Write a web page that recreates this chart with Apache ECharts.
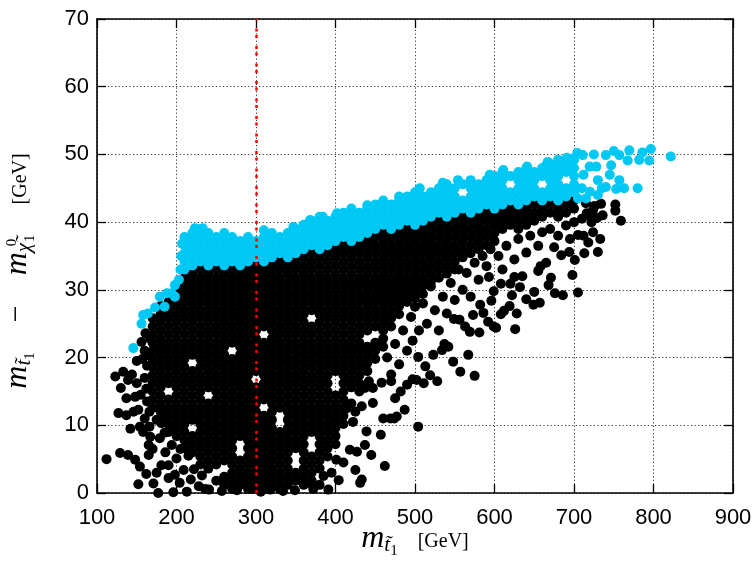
<!DOCTYPE html>
<html>
<head>
<meta charset="utf-8">
<script src="https://cdn.jsdelivr.net/npm/echarts/dist/echarts.min.js"></script>
<style>
  html, body { margin: 0; padding: 0; background: #fff; }
  #chart { width: 756px; height: 561px; }
</style>
</head>
<body>
<div id="chart"></div>
<script>
  // axis ticks
  var xTicks = [100, 200, 300, 400, 500, 600, 700, 800, 900];
  var yTicks = [0, 10, 20, 30, 40, 50, 60, 70];
  var redLineX = 300;

  // black points, dense part read column by column: [x, [y, y, ...]]
  var blackCore = [
    [170, [12.6, 13.8, 15, 16.2, 17.4, 18.6, 19.8, 21, 22.2, 23.4, 24.6, 25.8]],
    [180, [10.8, 12, 13.2, 14.4, 15.6, 16.8, 18, 19.2, 20.4, 21.6, 22.8, 24, 25.2, 26.4, 27.6]],
    [190, [9, 10.2, 11.4, 12.6, 13.8, 16.2, 17.4, 18.6, 19.8, 21, 22.2, 23.4, 24.6, 25.8, 27, 28.2]],
    [200, [8.4, 9.6, 10.8, 12, 13.2, 14.4, 15.6, 16.8, 18, 19.2, 20.4, 21.6, 22.8, 24, 25.2, 26.4, 27.6, 28.8, 30]],
    [210, [6.6, 7.8, 9, 10.2, 11.4, 12.6, 13.8, 15, 16.2, 17.4, 18.6, 19.8, 21, 22.2, 23.4, 24.6, 25.8, 27, 28.2, 29.4, 30.6, 31.8]],
    [220, [6, 7.2, 8.4, 10.8, 12, 13.2, 14.4, 15.6, 16.8, 18, 20.4, 21.6, 22.8, 24, 25.2, 26.4, 27.6, 28.8, 30, 31.2, 32.4]],
    [230, [4.2, 5.4, 6.6, 7.8, 9, 10.2, 11.4, 12.6, 13.8, 15, 16.2, 17.4, 18.6, 19.8, 21, 22.2, 23.4, 24.6, 25.8, 27, 28.2, 29.4, 30.6, 31.8, 33]],
    [240, [3.6, 4.8, 6, 7.2, 8.4, 9.6, 10.8, 12, 13.2, 15.6, 16.8, 18, 19.2, 20.4, 21.6, 22.8, 24, 25.2, 26.4, 27.6, 28.8, 30, 31.2, 32.4, 33.6]],
    [250, [1.8, 4.2, 5.4, 6.6, 7.8, 9, 10.2, 11.4, 12.6, 13.8, 15, 16.2, 17.4, 18.6, 19.8, 21, 22.2, 23.4, 24.6, 25.8, 27, 28.2, 29.4, 30.6, 31.8, 33]],
    [260, [1.2, 2.4, 4.8, 6, 7.2, 8.4, 9.6, 10.8, 12, 13.2, 14.4, 15.6, 16.8, 18, 19.2, 20.4, 21.6, 22.8, 24, 25.2, 26.4, 27.6, 28.8, 30, 31.2, 32.4, 33.6]],
    [270, [0.6, 1.8, 3, 4.2, 5.4, 6.6, 7.8, 9, 10.2, 11.4, 12.6, 13.8, 15, 16.2, 17.4, 18.6, 19.8, 22.2, 23.4, 24.6, 25.8, 27, 28.2, 29.4, 30.6, 31.8, 33]],
    [280, [1.2, 2.4, 3.6, 4.8, 8.4, 9.6, 10.8, 12, 13.2, 14.4, 15.6, 16.8, 18, 19.2, 20.4, 21.6, 22.8, 24, 25.2, 26.4, 27.6, 28.8, 30, 31.2, 32.4, 33.6]],
    [290, [0.6, 1.8, 3, 4.2, 5.4, 6.6, 7.8, 9, 10.2, 11.4, 12.6, 13.8, 15, 16.2, 17.4, 18.6, 19.8, 21, 22.2, 23.4, 24.6, 25.8, 27, 28.2, 29.4, 30.6, 31.8, 33]],
    [300, [1.2, 2.4, 3.6, 4.8, 6, 7.2, 8.4, 9.6, 10.8, 12, 13.2, 14.4, 15.6, 18, 19.2, 20.4, 21.6, 22.8, 24, 25.2, 26.4, 27.6, 28.8, 30, 31.2, 32.4, 33.6]],
    [310, [0.6, 1.8, 3, 4.2, 5.4, 6.6, 7.8, 9, 10.2, 11.4, 13.8, 15, 16.2, 17.4, 18.6, 19.8, 21, 22.2, 24.6, 25.8, 27, 28.2, 29.4, 30.6, 31.8, 33]],
    [320, [1.2, 2.4, 3.6, 4.8, 6, 7.2, 8.4, 9.6, 10.8, 12, 13.2, 14.4, 15.6, 16.8, 18, 19.2, 20.4, 21.6, 22.8, 24, 25.2, 26.4, 27.6, 28.8, 30, 31.2, 32.4, 33.6]],
    [330, [0.6, 1.8, 3, 4.2, 5.4, 6.6, 7.8, 9, 12.6, 13.8, 15, 16.2, 17.4, 18.6, 19.8, 21, 22.2, 23.4, 24.6, 25.8, 27, 28.2, 29.4, 30.6, 31.8, 33, 34.2]],
    [340, [1.2, 2.4, 3.6, 4.8, 6, 7.2, 8.4, 9.6, 10.8, 12, 13.2, 14.4, 15.6, 16.8, 18, 19.2, 20.4, 21.6, 22.8, 24, 25.2, 26.4, 27.6, 28.8, 30, 31.2, 32.4, 33.6, 34.8]],
    [350, [1.8, 3, 6.6, 7.8, 9, 10.2, 11.4, 12.6, 13.8, 15, 16.2, 17.4, 18.6, 19.8, 21, 22.2, 23.4, 24.6, 25.8, 27, 28.2, 29.4, 30.6, 31.8, 33, 34.2]],
    [360, [1.2, 2.4, 3.6, 4.8, 6, 7.2, 8.4, 9.6, 10.8, 12, 13.2, 14.4, 15.6, 16.8, 18, 19.2, 20.4, 21.6, 22.8, 24, 25.2, 26.4, 27.6, 28.8, 30, 31.2, 32.4, 33.6, 34.8]],
    [370, [1.8, 3, 4.2, 5.4, 9, 10.2, 11.4, 12.6, 13.8, 15, 16.2, 17.4, 18.6, 19.8, 21, 22.2, 23.4, 24.6, 27, 28.2, 29.4, 30.6, 31.8, 33, 34.2, 35.4]],
    [380, [3.6, 4.8, 6, 7.2, 8.4, 9.6, 10.8, 12, 13.2, 14.4, 15.6, 16.8, 18, 19.2, 20.4, 21.6, 22.8, 24, 25.2, 26.4, 27.6, 28.8, 30, 31.2, 32.4, 33.6, 34.8, 36]],
    [390, [5.4, 6.6, 7.8, 9, 10.2, 11.4, 12.6, 13.8, 15, 16.2, 17.4, 18.6, 19.8, 21, 22.2, 23.4, 24.6, 25.8, 27, 28.2, 29.4, 30.6, 31.8, 33, 34.2, 35.4, 36.6]],
    [400, [7.2, 8.4, 9.6, 10.8, 12, 13.2, 14.4, 18, 19.2, 20.4, 21.6, 22.8, 24, 25.2, 26.4, 27.6, 28.8, 30, 31.2, 32.4, 33.6, 34.8, 36]],
    [410, [10.2, 11.4, 12.6, 13.8, 15, 16.2, 17.4, 18.6, 19.8, 21, 22.2, 23.4, 24.6, 25.8, 27, 28.2, 29.4, 30.6, 31.8, 33, 34.2, 35.4, 36.6]],
    [420, [13.2, 15.6, 16.8, 18, 19.2, 20.4, 21.6, 22.8, 24, 25.2, 26.4, 27.6, 28.8, 30, 31.2, 32.4, 33.6, 34.8, 36, 37.2]],
    [430, [15, 16.2, 17.4, 18.6, 19.8, 21, 22.2, 23.4, 24.6, 25.8, 27, 28.2, 29.4, 30.6, 31.8, 33, 34.2, 35.4, 36.6, 37.8]],
    [440, [18, 19.2, 20.4, 21.6, 24, 25.2, 26.4, 27.6, 28.8, 30, 31.2, 32.4, 33.6, 34.8, 36, 37.2, 38.4]],
    [450, [19.8, 21, 22.2, 24.6, 25.8, 27, 28.2, 29.4, 30.6, 31.8, 33, 34.2, 35.4, 36.6, 37.8]],
    [460, [21.6, 22.8, 24, 25.2, 26.4, 27.6, 28.8, 30, 31.2, 32.4, 33.6, 34.8, 36, 37.2, 38.4]],
    [470, [24.6, 25.8, 27, 28.2, 29.4, 30.6, 31.8, 33, 34.2, 35.4, 36.6, 37.8, 39]],
    [480, [26.4, 27.6, 28.8, 30, 31.2, 32.4, 33.6, 34.8, 36, 37.2, 38.4, 39.6]],
    [490, [28.2, 29.4, 30.6, 31.8, 33, 34.2, 35.4, 36.6, 37.8, 39]],
    [500, [28.8, 30, 31.2, 32.4, 33.6, 34.8, 36, 37.2, 38.4, 39.6]],
    [510, [29.4, 30.6, 31.8, 33, 34.2, 35.4, 36.6, 37.8, 39, 40.2]],
    [520, [31.2, 32.4, 33.6, 34.8, 36, 37.2, 38.4, 39.6, 40.8]],
    [530, [31.8, 33, 34.2, 35.4, 36.6, 37.8, 39, 40.2]],
    [540, [32.4, 33.6, 34.8, 36, 37.2, 38.4, 39.6, 40.8]],
    [550, [33, 34.2, 35.4, 36.6, 37.8, 39, 40.2, 41.4]],
    [560, [34.8, 36, 37.2, 38.4, 39.6, 40.8]],
    [570, [35.4, 36.6, 37.8, 39, 40.2, 41.4]],
    [580, [36, 37.2, 38.4, 39.6, 40.8, 42]],
    [590, [36.6, 37.8, 39, 40.2, 41.4]],
    [600, [37.2, 38.4, 39.6, 40.8, 42]],
    [610, [39, 40.2, 41.4, 42.6]],
    [620, [39.6, 40.8, 42]],
    [630, [39, 40.2, 41.4, 42.6]],
    [640, [39.6, 40.8, 42, 43.2]],
    [650, [40.2, 41.4, 42.6]],
    [660, [40.8, 42, 43.2]],
    [670, [41.4, 42.6]],
    [680, [40.8, 42, 43.2]],
    [690, [41.4, 42.6]],
    [700, [42, 43.2]]
  ];

  // black points, loose ones round the edges: [x, y]
  var blackLoose = [
    [112, 5], [123, 17.2], [127, 11.8], [129, 5.9], [130, 15.5], [133, 17.9], [137, 11.5], [137, 14],
    [139, 16.7], [139, 5.6], [142, 9.5], [144, 17.5], [146, 12], [148, 4.9], [148, 14.2], [150, 16.2],
    [150, 19.5], [152, 12.3], [152, 1.3], [154, 3.9], [154, 9.8], [155, 14.5], [156, 22.3], [157, 19.8],
    [158, 9], [160, 21], [160, 11], [160, 17], [162, 2.8], [163, 13.5], [165, 5.6], [165, 7.1],
    [161, 23.6], [162, 15.4], [163, 18.8], [166, 12], [166, 20.3], [167, 22.8],
    [166, 9.8], [167, 8.3], [170, 6.5], [171, 1.4], [175, 10.8], [175, 3], [177, 0], [179, 8.1],
    [181, 4.1], [181, 10.3], [185, 8.9], [186, 6], [190, 4.1], [190, 2.2], [192, 9.5], [194, 7.1],
    [196, 0.1], [198, 2.7], [200, 5.1], [204, 1.5], [205, 6.5], [209, 3.4], [213, 0.2], [215, 5.5],
    [218, 2], [222, 3.5], [228, 1], [232, 2.6], [236, 0.6],
    [241, 0.5], [257, 0.3], [276, 0.4], [295, 0.6], [306, 0.2], [318, 0.5], [334, 0.3], [349, 0.4],
    [365, 1.5], [372, 0.6], [380, 1.2], [385, 2.5], [391, 0.5], [395, 3], [401, 4.9], [404, 1.9],
    [410, 4.5], [418, 6.4], [425, 3.4], [427, 6.1], [431, 1.5], [433, 2], [437, 7.1], [439, 9.1],
    [445, 5.6], [457, 8.6], [462, 4], [414, 12.5], [422, 10.5], [425, 12], [433, 12.8], [437, 15.5],
    [442, 16.5], [447, 13.3], [460, 11], [469, 11], [474, 11], [477, 11.3], [487, 12.3], [504, 9.8],
    [447, 15.5], [458, 16.3], [470, 16.5], [490, 16], [497, 16.8], [475, 14], [482, 15],
    [465, 20], [470, 17.5], [475, 22], [480, 19], [485, 24], [490, 21], [495, 26], [497, 22.5],
    [500, 27.5], [502, 16.7], [504, 20.1], [505, 24], [510, 28], [511, 16.2], [513, 18.7], [515, 25],
    [519, 17.4], [520, 30.5], [523, 20.4], [525, 27], [528, 16.5], [530, 24], [534, 21.1], [535, 29],
    [537, 22], [540, 26.5], [542, 21.6], [545, 31], [548, 19.4], [549, 25.7], [550, 28.5], [555, 33],
    [556, 25.6], [557, 17.9], [560, 30], [563, 24.6], [565, 32.5], [567, 20.4], [569, 23.8], [570, 29],
    [573, 26.3], [575, 17.3], [575, 34], [580, 31.5], [581, 23.7], [582, 27.8], [585, 35], [586, 26.6],
    [590, 33.5], [592, 25.3], [593, 31.9], [595, 36], [596, 28.4], [599, 24.6], [599, 29.8], [602, 24.4],
    [605, 35], [608, 26.4], [608, 30.9], [610, 33], [612, 26.9], [615, 36.5], [619, 27.6], [620, 30.9],
    [622, 29.2], [625, 34.5], [625, 31.9], [626, 24.2], [628, 26.5], [630, 37.5], [632, 30.4], [635, 32],
    [640, 28.6], [640, 35.5], [645, 38], [649, 27.8], [650, 29.7], [655, 32.8], [655, 36.5], [657, 28.1],
    [658, 33.5], [660, 38.5], [665, 34], [668, 30.7], [670, 39], [671, 31.8], [675, 36.3], [676, 29.5],
    [680, 38], [684, 35.1], [686, 29.2], [690, 39.5], [694, 35.6], [695, 37.5], [698, 32.2], [700, 40],
    [701, 34.4], [705, 29.6], [705, 38.1], [710, 40.5], [712, 38], [713, 35.4], [715, 42.8], [716, 41.3],
    [718, 37], [720, 40.9], [722, 40], [724, 38.5], [724, 41.8], [726, 42.4], [729, 40.6], [730, 35.6],
    [733, 37.5], [734, 42.7], [736, 41], [752, 42.6], [752, 41.7], [759, 40.2]
  ];

  // cyan band, column by column
  var cyanCore = [
    [210, [33, 34.2, 35.4, 36.6, 37.8]],
    [220, [33.6, 34.8, 36, 37.2, 38.4]],
    [230, [34.2, 35.4, 36.6, 37.8, 39]],
    [240, [33.6, 34.8, 36, 37.2, 38.4]],
    [250, [34.2, 35.4, 36.6, 37.8]],
    [260, [33.6, 34.8, 36, 37.2, 38.4]],
    [270, [34.2, 35.4, 36.6, 37.8]],
    [280, [33.6, 34.8, 36, 37.2]],
    [290, [34.2, 35.4, 36.6, 37.8]],
    [300, [34.8, 36, 37.2]],
    [310, [34.2, 35.4, 36.6, 37.8]],
    [320, [34.8, 36, 37.2, 38.4]],
    [330, [35.4, 36.6, 37.8]],
    [340, [34.8, 36, 37.2, 38.4]],
    [350, [35.4, 36.6, 37.8, 39]],
    [360, [36, 37.2, 38.4, 39.6]],
    [370, [36.6, 37.8, 39, 40.2]],
    [380, [36, 37.2, 38.4, 39.6, 40.8]],
    [390, [36.6, 37.8, 39, 40.2]],
    [400, [37.2, 38.4, 39.6, 40.8]],
    [410, [37.8, 39, 40.2, 41.4]],
    [420, [37.2, 38.4, 39.6, 40.8, 42]],
    [430, [37.8, 39, 40.2, 41.4]],
    [440, [38.4, 39.6, 40.8, 42]],
    [450, [39, 40.2, 41.4, 42.6]],
    [460, [39.6, 40.8, 42, 43.2]],
    [470, [39, 40.2, 41.4, 42.6]],
    [480, [39.6, 40.8, 42, 43.2]],
    [490, [40.2, 41.4, 42.6, 43.8]],
    [500, [39.6, 40.8, 42, 43.2, 44.4]],
    [510, [40.2, 41.4, 42.6, 43.8]],
    [520, [40.8, 42, 43.2, 44.4]],
    [530, [41.4, 42.6, 43.8, 45]],
    [540, [40.8, 42, 43.2, 44.4, 45.6]],
    [550, [41.4, 42.6, 43.8, 45]],
    [560, [42, 43.2, 45.6]],
    [570, [41.4, 42.6, 43.8, 45, 46.2]],
    [580, [42, 43.2, 44.4, 45.6]],
    [590, [42.6, 43.8, 45, 46.2]],
    [600, [42, 43.2, 44.4, 45.6, 46.8]],
    [610, [42.6, 43.8, 45, 46.2, 47.4]],
    [620, [43.2, 44.4, 46.8]],
    [630, [42.6, 43.8, 45, 46.2, 47.4]],
    [640, [43.2, 44.4, 45.6, 46.8, 48]],
    [650, [43.8, 45, 46.2, 47.4]],
    [660, [43.2, 44.4, 46.8, 48]],
    [670, [43.8, 45, 46.2, 47.4, 48.6]],
    [680, [43.2, 44.4, 45.6, 46.8, 48, 49.2]],
    [690, [43.8, 45, 47.4, 48.6]],
    [700, [44.4, 45.6, 46.8, 48, 49.2]]
  ];

  var cyanLoose = [
    [145.7, 21.4], [156, 25], [158, 26.3], [164, 26.5], [173, 27.4], [179, 29], [185, 27.5], [188, 29.5],
    [194, 29.5], [198, 30.7], [198, 29], [203, 31.5], [205, 33], [206, 35], [207, 36.8], [213, 37.4],
    [223, 39.1], [233, 39.1],
    [310, 38.8], [347, 39.3], [368, 40.3], [384, 40.8], [402, 41.3], [440, 42.5], [480, 43.8], [506, 45],
    [535, 45.8], [554, 46.2], [594, 47], [611, 47.7], [641, 48.2], [665, 48.4], [667, 48.9], [682, 48.9],
    [691, 49.5], [699, 49.4], [704, 50.2],
    [705, 43.5], [710, 45], [712, 47], [711, 49.9], [715, 43.5], [719.6, 48.2], [720, 44.5], [725, 50],
    [728, 48.2], [730, 46.2], [730, 44], [735, 45], [740, 49.9], [740, 45.2], [745, 47], [746.7, 48.4],
    [750, 50.5], [753, 44.9], [757, 46.2], [757, 49.9], [763, 45], [767.5, 49.1], [769.6, 50.6], [780, 45],
    [782, 49.2], [786, 50.3], [794.6, 49.1], [796.7, 50.8], [821.7, 49.7]
  ];

  function expand(cols) {
    var pts = [];
    cols.forEach(function (c) {
      c[1].forEach(function (y) { pts.push([c[0], y]); });
    });
    return pts;
  }

  var blackPts = expand(blackCore).concat(blackLoose);
  var cyanPts = expand(cyanCore).concat(cyanLoose);

  var serif = 'Liberation Serif';
  var mathRich = {
    m: { fontFamily: serif, fontStyle: 'italic', fontSize: 32, color: '#000' },
    s: { fontFamily: serif, fontStyle: 'italic', fontSize: 21, color: '#000', padding: [14, 0, 0, 0] },
    ss: { fontFamily: serif, fontSize: 15, color: '#000', padding: [26, 0, 0, 0] },
    sup: { fontFamily: serif, fontSize: 15, color: '#000', padding: [0, 0, 10, 0], width: 1 },
    op: { fontFamily: serif, fontSize: 30, color: '#000' },
    g: { fontFamily: serif, fontSize: 20, color: '#000', padding: [6, 0, 0, 0] }
  };

  var tickLabel = { fontFamily: 'Liberation Sans', fontSize: 22, color: '#000' };
  var gridLine = { show: true, lineStyle: { color: '#333', width: 1, type: [1.2, 2.4] } };
  var frame = { show: true, onZero: false, lineStyle: { color: '#000', width: 1.6 } };
  var tick = { show: true, inside: true, length: 9, lineStyle: { color: '#000', width: 1.3 } };

  var chart = echarts.init(document.getElementById('chart'));
  chart.setOption({
    animation: false,
    backgroundColor: '#fff',
    grid: { left: 97, right: 23, top: 19, bottom: 68, containLabel: false, outerBoundsMode: 'none' },
    xAxis: [{
      type: 'value', position: 'bottom',
      min: xTicks[0], max: xTicks[xTicks.length - 1], interval: 100,
      axisLine: frame, axisTick: tick, splitLine: gridLine,
      axisLabel: Object.assign({ margin: 14 }, tickLabel),
      name: '{m|m}{s|t\u0303}{ss|1}{g|    [GeV]}',
      nameLocation: 'middle', nameGap: 25, nameMoveOverlap: false,
      nameTextStyle: { rich: mathRich }
    }, {
      type: 'value', position: 'top',
      min: xTicks[0], max: xTicks[xTicks.length - 1], interval: 100,
      axisLine: frame, axisTick: tick, splitLine: { show: false }, axisLabel: { show: false }
    }],
    yAxis: [{
      type: 'value', position: 'left',
      min: yTicks[0], max: yTicks[yTicks.length - 1], interval: 10,
      axisLine: frame, axisTick: tick, splitLine: gridLine,
      axisLabel: Object.assign({ margin: 8 }, tickLabel),
      name: '{m|m}{s|t\u0303}{ss|1}{op|    \u2212    }{m|m}{s|\u03c7\u0303}{sup|0}{ss|1}{g|      [GeV]}',
      nameLocation: 'middle', nameRotate: 90, nameGap: 59, nameMoveOverlap: false,
      nameTextStyle: { rich: mathRich, padding: [0, 30, 0, 0] }
    }, {
      type: 'value', position: 'right',
      min: yTicks[0], max: yTicks[yTicks.length - 1], interval: 10,
      axisLine: frame, axisTick: tick, splitLine: { show: false }, axisLabel: { show: false }
    }],
    series: [{
      type: 'scatter', silent: true,
      symbol: 'circle', symbolSize: 10,
      itemStyle: { color: '#000', opacity: 1 },
      data: blackPts
    }, {
      type: 'scatter', silent: true,
      symbol: 'circle', symbolSize: 10,
      itemStyle: { color: '#00c8f5', opacity: 1 },
      data: cyanPts
    }, {
      type: 'line', z: 5, data: [],
      markLine: {
        silent: true, symbol: ['none', 'none'], animation: false,
        label: { show: false },
        lineStyle: { color: '#ff0000', width: 2.5, type: [3, 3.5, 3, 8] },
        data: [{ xAxis: redLineX }]
      }
    }]
  });
</script>
</body>
</html>
